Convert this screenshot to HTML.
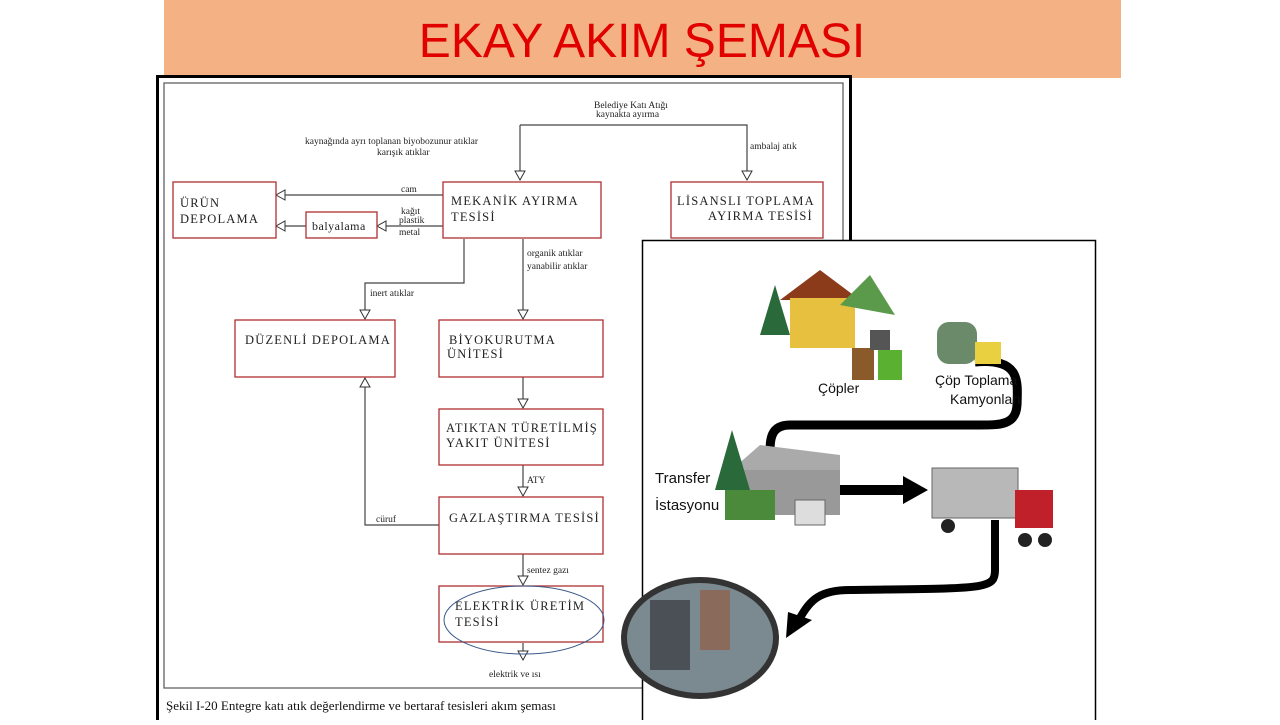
<!DOCTYPE html>
<html><head><meta charset="utf-8"><style>
body{margin:0;width:1280px;height:720px;background:#fff;overflow:hidden;font-family:"Liberation Serif",serif;}
</style></head><body>
<svg width="1280" height="720" xmlns="http://www.w3.org/2000/svg" font-family="Liberation Serif, serif">
<defs>
<marker id="a" markerWidth="12" markerHeight="12" refX="10" refY="6" orient="auto" markerUnits="userSpaceOnUse">
<path d="M1,1 L10,6 L1,11 Z" fill="#fff" stroke="#333" stroke-width="1"/></marker>
</defs>
<rect x="164" y="0" width="957" height="78" fill="#f4b183"/>
<text x="642" y="57" text-anchor="middle" font-family="Liberation Sans Narrow, Liberation Sans, sans-serif" font-size="48" fill="#e00000">EKAY AKIM ŞEMASI</text>
<rect x="157.5" y="76.5" width="693" height="650" fill="#fff" stroke="#000" stroke-width="3"/>
<rect x="164" y="83" width="679" height="605" fill="none" stroke="#555" stroke-width="1.2"/>
<text x="166" y="710" font-size="13" fill="#111">Şekil I-20 Entegre katı atık değerlendirme ve bertaraf tesisleri akım şeması</text>
<g fill="none" stroke="#444" stroke-width="1.2">
<path d="M520,125 H747 V180" marker-end="url(#a)"/>
<path d="M520,125 V180" marker-end="url(#a)"/>
<path d="M443,195 H276" marker-end="url(#a)"/>
<path d="M443,226 H377" marker-end="url(#a)"/>
<path d="M306,226 H276" marker-end="url(#a)"/>
<path d="M464,239 V283 H365 V319" marker-end="url(#a)"/>
<path d="M523,239 V319" marker-end="url(#a)"/>
<path d="M523,377 V408" marker-end="url(#a)"/>
<path d="M523,465 V496" marker-end="url(#a)"/>
<path d="M439,525 H365 V378" marker-end="url(#a)"/>
<path d="M523,554 V585" marker-end="url(#a)"/>
<path d="M523,643 V660" marker-end="url(#a)"/>
</g>
<g fill="#fff" stroke="#b03030" stroke-width="1.3">
<rect x="173" y="182" width="103" height="56"/>
<rect x="306" y="212" width="71" height="26"/>
<rect x="443" y="182" width="158" height="56"/>
<rect x="671" y="182" width="152" height="56"/>
<rect x="235" y="320" width="160" height="57"/>
<rect x="439" y="320" width="164" height="57"/>
<rect x="439" y="409" width="164" height="56"/>
<rect x="439" y="497" width="164" height="57"/>
<rect x="439" y="586" width="164" height="56"/>
</g>
<g font-size="12.5" fill="#222" letter-spacing="1.2">
<text x="180" y="207">ÜRÜN</text><text x="180" y="223">DEPOLAMA</text>
<text x="451" y="205">MEKANİK AYIRMA</text><text x="451" y="221">TESİSİ</text>
<text x="677" y="205">LİSANSLI TOPLAMA</text><text x="708" y="220">AYIRMA TESİSİ</text>
<text x="245" y="344">DÜZENLİ DEPOLAMA</text>
<text x="449" y="344">BİYOKURUTMA</text><text x="447" y="358">ÜNİTESİ</text>
<text x="446" y="432">ATIKTAN TÜRETİLMİŞ</text><text x="446" y="447">YAKIT ÜNİTESİ</text>
<text x="449" y="522">GAZLAŞTIRMA TESİSİ</text>
<text x="455" y="610">ELEKTRİK ÜRETİM</text><text x="455" y="626">TESİSİ</text>
</g>
<text x="312" y="230" font-size="12" fill="#222" letter-spacing="0.5">balyalama</text>
<g font-size="9.5" fill="#222">
<text x="594" y="108">Belediye Katı Atığı</text><text x="596" y="117">kaynakta ayırma</text>
<text x="305" y="144">kaynağında ayrı toplanan biyobozunur atıklar</text>
<text x="377" y="155">karışık atıklar</text>
<text x="750" y="149">ambalaj atık</text>
<text x="401" y="192">cam</text>
<text x="401" y="214">kağıt</text><text x="399" y="223">plastik</text><text x="399" y="235">metal</text>
<text x="527" y="256">organik atıklar</text><text x="527" y="269">yanabilir atıklar</text>
<text x="370" y="296">inert atıklar</text>
<text x="527" y="483">ATY</text>
<text x="376" y="522">cüruf</text>
<text x="527" y="573">sentez gazı</text>
<text x="489" y="677">elektrik ve ısı</text>
</g>
<ellipse cx="524" cy="620" rx="80" ry="34" fill="none" stroke="#3a5a8a" stroke-width="1"/>
<!-- right panel -->
<rect x="642.5" y="240.5" width="453" height="482" fill="#fff" stroke="#000" stroke-width="1.5"/>
<path d="M975,362 C1020,358 1018,380 1017,405 C1016,425 1000,425 980,425 L790,425 C770,425 770,440 770,455" fill="none" stroke="#000" stroke-width="9"/>
<path d="M840,490 H905" stroke="#000" stroke-width="10"/>
<polygon points="903,476 928,490 903,504" fill="#000"/>
<path d="M995,520 V570 C995,590 985,588 850,590 C820,590 810,600 800,618" fill="none" stroke="#000" stroke-width="8"/>
<polygon points="788,612 812,620 786,638" fill="#000"/>
<!-- house -->
<polygon points="780,300 820,270 860,300" fill="#8b3a1a"/>
<rect x="790" y="298" width="65" height="50" fill="#e8c040"/>
<polygon points="760,335 775,285 790,335" fill="#2a6a3a"/>
<polygon points="840,305 870,275 895,315" fill="#5a9a4a"/>
<rect x="852" y="348" width="22" height="32" fill="#8a5a2a"/>
<rect x="878" y="350" width="24" height="30" fill="#5ab030"/>
<rect x="870" y="330" width="20" height="20" fill="#555"/>
<rect x="937" y="322" width="40" height="42" rx="12" fill="#6a8a6a"/>
<rect x="975" y="342" width="26" height="22" fill="#e8d040"/>
<text x="818" y="393" font-family="Liberation Sans Narrow, Liberation Sans, sans-serif" font-size="14" fill="#111">Çöpler</text>
<text x="935" y="385" font-family="Liberation Sans Narrow, Liberation Sans, sans-serif" font-size="14" fill="#111">Çöp Toplama</text>
<text x="950" y="404" font-family="Liberation Sans Narrow, Liberation Sans, sans-serif" font-size="14" fill="#111">Kamyonları</text>
<!-- transfer -->
<polygon points="720,480 760,445 840,455 840,480" fill="#aaa"/>
<rect x="740" y="470" width="100" height="45" fill="#999"/>
<polygon points="715,490 732,430 750,490" fill="#2a6a3a"/>
<rect x="725" y="490" width="50" height="30" fill="#4a8a3a"/>
<rect x="795" y="500" width="30" height="25" fill="#ddd" stroke="#666"/>
<text x="655" y="483" font-family="Liberation Sans Narrow, Liberation Sans, sans-serif" font-size="15" fill="#111">Transfer</text>
<text x="655" y="510" font-family="Liberation Sans Narrow, Liberation Sans, sans-serif" font-size="15" fill="#111">İstasyonu</text>
<!-- semi truck -->
<rect x="932" y="468" width="86" height="50" fill="#b8b8b8" stroke="#666"/>
<rect x="1015" y="490" width="38" height="38" fill="#c0202a"/>
<circle cx="948" cy="526" r="7" fill="#222"/><circle cx="1025" cy="540" r="7" fill="#222"/><circle cx="1045" cy="540" r="7" fill="#222"/>
<!-- photo circle -->
<ellipse cx="700" cy="638" rx="76" ry="58" fill="#7a8a90" stroke="#333" stroke-width="6"/>
<rect x="650" y="600" width="40" height="70" fill="#4a5055"/>
<rect x="700" y="590" width="30" height="60" fill="#8a6a5a"/>
</svg>
</body></html>
